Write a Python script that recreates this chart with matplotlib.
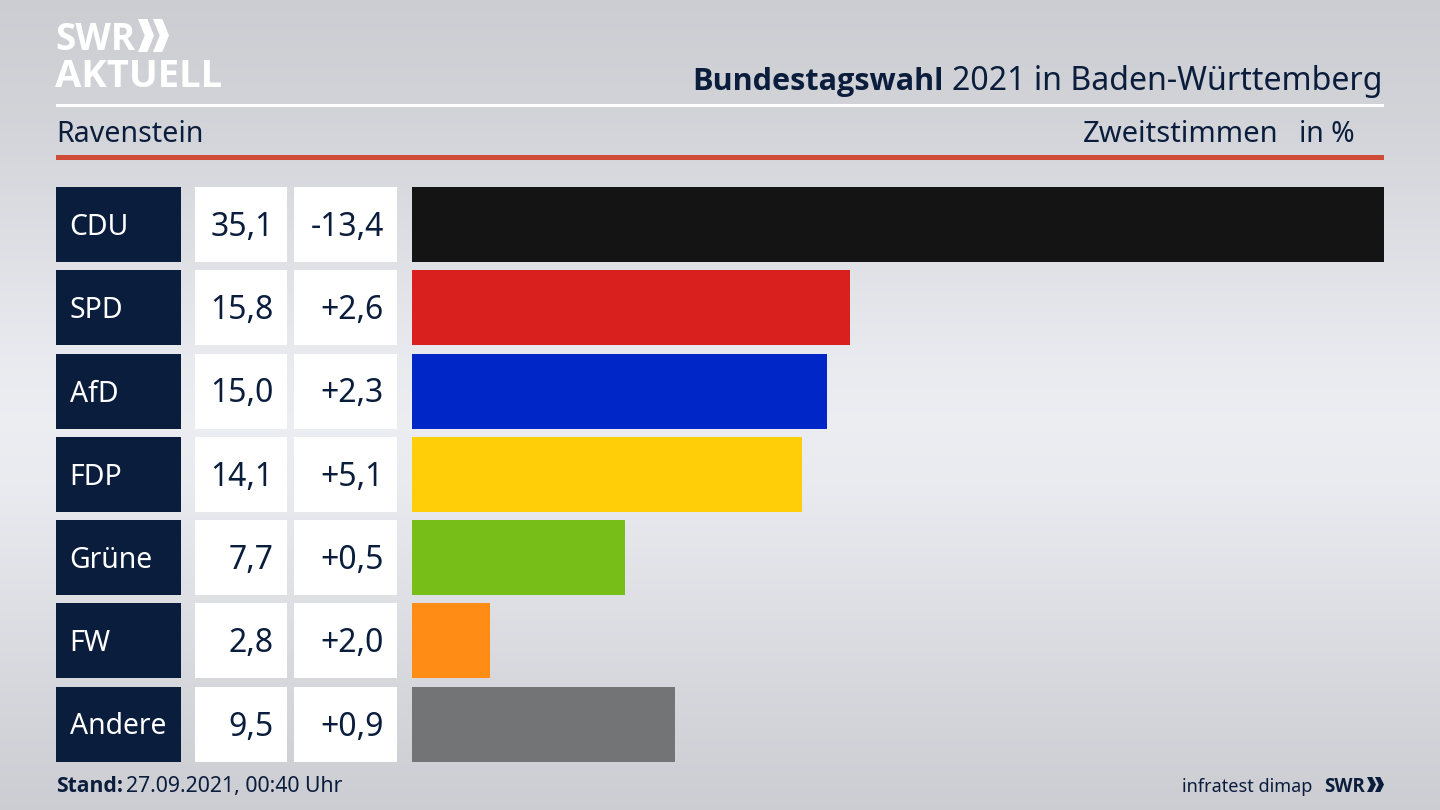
#!/usr/bin/env python3
"""Bundestagswahl 2021 Ravenstein, Zweitstimmen."""
import matplotlib
matplotlib.use("Agg")
import matplotlib.pyplot as plt
import numpy as np
from matplotlib.patches import Polygon, Rectangle

parties = ["CDU", "SPD", "AfD", "FDP", "Grüne", "FW", "Andere"]
shares = [35.1, 15.8, 15.0, 14.1, 7.7, 2.8, 9.5]
changes = ["-13,4", "+2,6", "+2,3", "+5,1", "+0,5", "+2,0", "+0,9"]
colors = ["#141414", "#d9201e", "#0026c8", "#ffce08", "#78be18", "#ff8c14", "#737476"]

NAVY = "#0b1d3c"
W, H = 1440, 810
PITCH = 83.25
BAR_H = 75
REGULAR = ["Noto Sans", "DejaVu Sans"]
BOLD = ["Open Sans", "DejaVu Sans"]
plt.rcParams["font.family"] = REGULAR


def px(x, y, w, h):
    """pixel box (top-left origin) to figure fractions"""
    return [x / W, 1 - (y + h) / H, w / W, h / H]


fig = plt.figure(figsize=(14.4, 8.1), dpi=100)

# background gradient, lightest a bit below the middle
bg = fig.add_axes([0, 0, 1, 1], zorder=-5)
bg.axis("off")
stops_y = [0, 0.15, 0.35, 0.45, 0.52, 0.6, 0.7, 0.88, 1]
stops_v = [0.80, 0.825, 0.885, 0.915, 0.925, 0.915, 0.885, 0.83, 0.80]
grad = np.interp(np.linspace(0, 1, 256), stops_y, stops_v)
rgb = np.stack([grad, grad + 0.006, grad + 0.024], axis=1).clip(0, 1)[:, None, :]
bg.imshow(rgb, aspect="auto", extent=[0, 1, 0, 1], interpolation="bilinear")


def ftext(x, y, s, **kw):
    return fig.text(x / W, 1 - y / H, s, va="baseline", **kw)


def frect(x, y, w, h, color):
    fig.patches.append(Rectangle((x / W, 1 - (y + h) / H), w / W, h / H,
                                 transform=fig.transFigure, facecolor=color,
                                 edgecolor="none"))


def chevron(x, y, w, h, color):
    pts = [(x, y), (x + w * 0.58, y), (x + w, y + h / 2), (x + w * 0.58, y + h),
           (x, y + h), (x + w * 0.42, y + h / 2)]
    fig.patches.append(Polygon([(a / W, 1 - b / H) for a, b in pts],
                               transform=fig.transFigure, facecolor=color,
                               edgecolor="none"))


# logo
ftext(55, 50, "SWR", color="white", fontsize=26.5, fontweight="bold", family=BOLD)
chevron(138, 19, 16, 33, "white")
chevron(153, 19, 16, 33, "white")
ftext(55, 87, "AKTUELL", color="white", fontsize=27.5, fontweight="bold", family=BOLD)

# header
ftext(1383, 90, "2021 in Baden-Württemberg", color=NAVY, fontsize=23.1, ha="right")
ftext(944, 90, "Bundestagswahl", color=NAVY, fontsize=22.1, fontweight="bold",
      ha="right", family=BOLD)
frect(56, 104, 1328, 3, "white")
ftext(56, 142, "Ravenstein", color=NAVY, fontsize=20.6)
ftext(1278.5, 142, "Zweitstimmen", color=NAVY, fontsize=21, ha="right")
ftext(1355, 142, "in %", color=NAVY, fontsize=20.4, ha="right")
frect(56, 155, 1328, 5, "#cf4b38")

# bars
ax = fig.add_axes(px(412, 187, 972, 6 * PITCH + BAR_H))
ax.patch.set_alpha(0)
ax.axis("off")
bar_frac = BAR_H / PITCH
ax.set_xlim(0, 35.1)
ax.set_ylim(len(parties) - 1 + bar_frac / 2, -bar_frac / 2)
ypos = np.arange(len(parties))
ax.barh(ypos, shares, height=bar_frac, color=colors)

for i, (party, share, change) in enumerate(zip(parties, shares, changes)):
    top = 187 + i * PITCH
    frect(56, top, 125, BAR_H, NAVY)
    frect(195, top, 92, BAR_H, "white")
    frect(294, top, 103, BAR_H, "white")
    ftext(69.5, top + 48, party, color="white", fontsize=20.4)
    ftext(273.5, top + 49, f"{share:.1f}".replace(".", ","), color=NAVY, fontsize=23,
          ha="right")
    ftext(384, top + 49, change, color=NAVY, fontsize=23, ha="right")

# footer
ftext(56, 792, "Stand:", color=NAVY, fontsize=15.2, fontweight="bold", family=BOLD)
ftext(126, 792, "27.09.2021, 00:40 Uhr", color=NAVY, fontsize=15.3)
ftext(1312, 792, "infratest dimap", color=NAVY, fontsize=13, ha="right")
ftext(1324, 792, "SWR", color=NAVY, fontsize=13.5, fontweight="bold", family=BOLD)
chevron(1367, 777, 9, 15, NAVY)
chevron(1375, 777, 9, 15, NAVY)

fig.savefig("out.png", dpi=100)
